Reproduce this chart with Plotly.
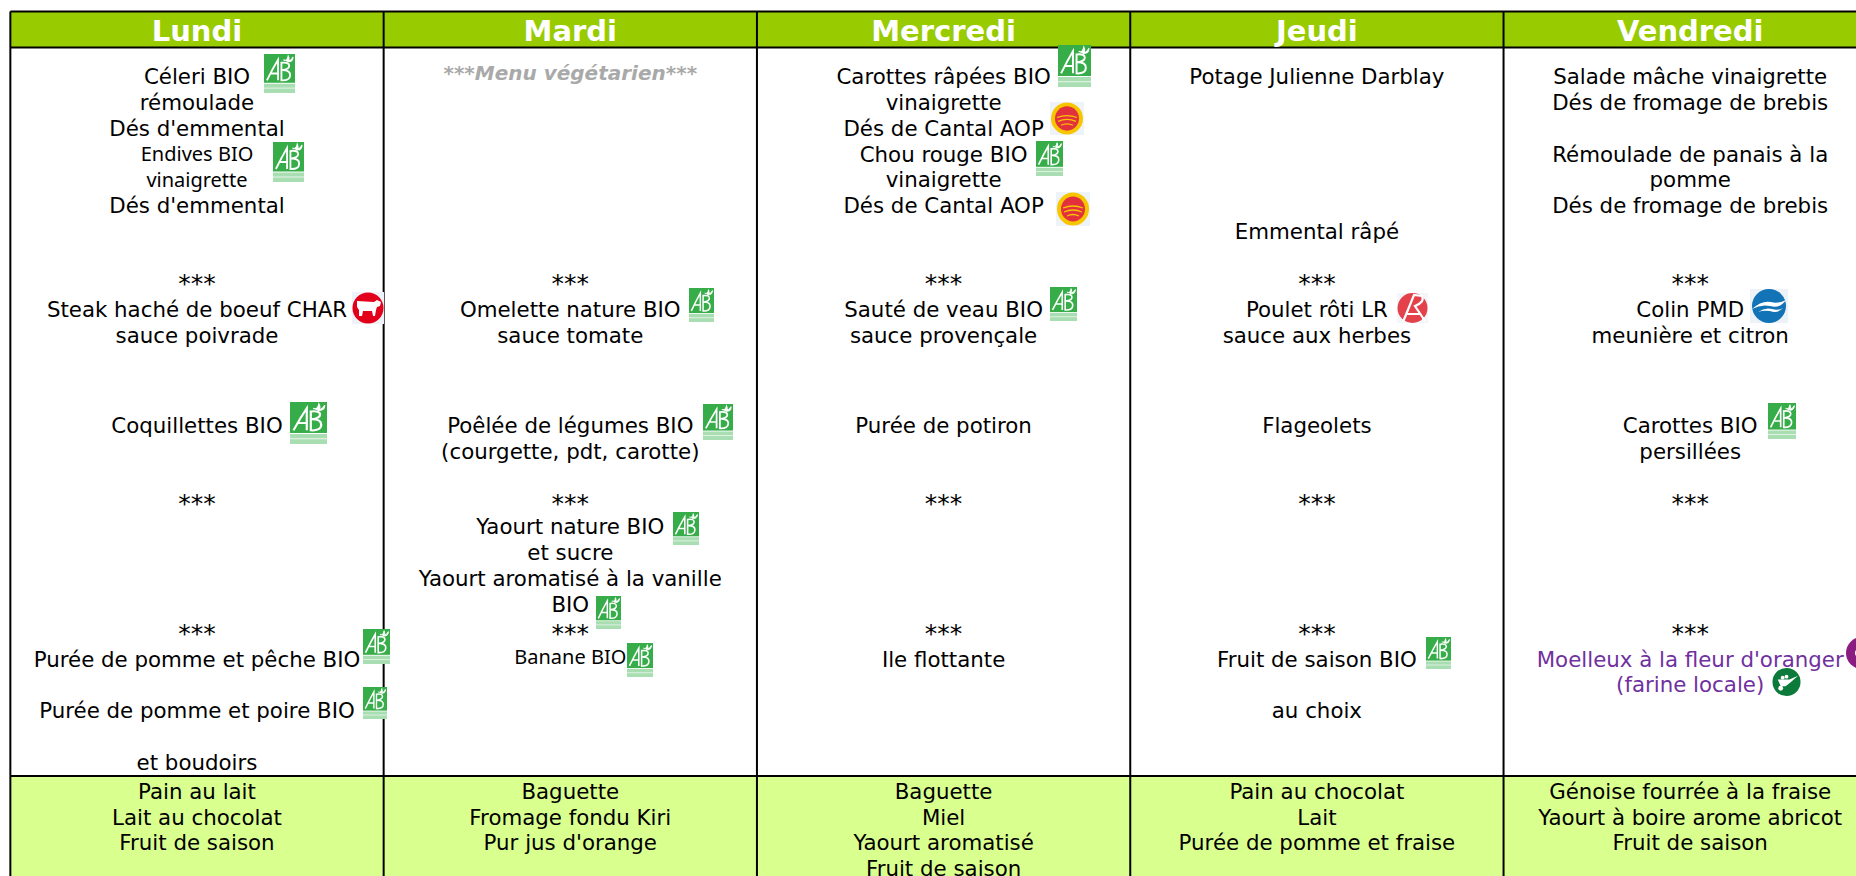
import base64
import plotly.graph_objects as go

W, H = 1856, 876
DAYS = ["Lundi", "Mardi", "Mercredi", "Jeudi", "Vendredi"]

LUNDI = [(0, "Céleri BIO"), (1, "rémoulade"), (2, "Dés d'emmental"), (8, "***"),
         (9, "Steak haché de boeuf CHAR"), (10, "sauce poivrade"), (13.5, "Coquillettes BIO"),
         (16.5, "***"), (21.5, "***"), (22.5, "Purée de pomme et pêche BIO"),
         (24.5, "Purée de pomme et poire BIO"), (26.5, "et boudoirs"), (5, "Dés d'emmental")]
MARDI = [(8, "***"), (9, "Omelette nature BIO"), (10, "sauce tomate"), (13.5, "Poêlée de légumes BIO"),
         (14.5, "(courgette, pdt, carotte)"), (16.5, "***"), (17.4, "Yaourt nature BIO"), (18.4, "et sucre"),
         (19.4, "Yaourt aromatisé à la vanille"), (20.4, "BIO"), (21.5, "***")]
MERCREDI = [(0, "Carottes râpées BIO"), (1, "vinaigrette"), (2, "Dés de Cantal AOP"), (3, "Chou rouge BIO"),
            (4, "vinaigrette"), (5, "Dés de Cantal AOP"), (8, "***"), (9, "Sauté de veau BIO"),
            (10, "sauce provençale"), (13.5, "Purée de potiron"), (16.5, "***"), (21.5, "***"), (22.5, "Ile flottante")]
JEUDI = [(0, "Potage Julienne Darblay"), (6, "Emmental râpé"), (8, "***"), (9, "Poulet rôti LR"),
         (10, "sauce aux herbes"), (13.5, "Flageolets"), (16.5, "***"), (21.5, "***"),
         (22.5, "Fruit de saison BIO"), (24.5, "au choix")]
VENDREDI = [(0, "Salade mâche vinaigrette"), (1, "Dés de fromage de brebis"), (3, "Rémoulade de panais à la"),
            (4, "pomme"), (5, "Dés de fromage de brebis"), (8, "***"), (9, "Colin PMD"),
            (10, "meunière et citron"), (13.5, "Carottes BIO"), (14.5, "persillées"), (16.5, "***"), (21.5, "***")]
TAHOMA_LINES = [(0, 3, "Endives BIO"), (0, 4, "vinaigrette"), (1, 22.4, "Banane BIO")]
VEGETARIEN = [(1, -0.15, "***Menu végétarien***")]
PURPLE_LINES = [(4, 22.5, "Moelleux à la fleur d'oranger"), (4, 23.5, "(farine locale)")]

GOUTER_ROWS = [27.6, 28.6, 29.6, 30.6]
GOUTER = [["Pain au lait", "Lait au chocolat", "Fruit de saison"],
          ["Baguette", "Fromage fondu Kiri", "Pur jus d'orange"],
          ["Baguette", "Miel", "Yaourt aromatisé", "Fruit de saison"],
          ["Pain au chocolat", "Lait", "Purée de pomme et fraise"],
          ["Génoise fourrée à la fraise", "Yaourt à boire arome abricot", "Fruit de saison"]]

# layout calibration (page pixels)
ROW0, ROWH = 78.5, 25.9
COL0, COLW = 197.0, 373.3
TOP, HEAD_B, SNACK = 11.5, 47.5, 776.0
BLACK = "#000000"


def ry(px):
    return (px - ROW0) / ROWH


def cx(px):
    return (px - COL0) / COLW


def svg_uri(body, w, h):
    s = f'<svg xmlns="http://www.w3.org/2000/svg" viewBox="0 0 {w} {h}" width="{w*4}" height="{h*4}" preserveAspectRatio="none">{body}</svg>'
    return "data:image/svg+xml;base64," + base64.b64encode(s.encode()).decode()


AB = svg_uri('<rect width="32" height="40" fill="#fff"/><rect width="32" height="29.5" fill="#37AD4A"/>'
             '<rect y="30.5" width="32" height="9.5" fill="#A9DDB2"/>'
             '<rect y="34.5" width="32" height="1" fill="#E6F5E8"/>'
             '<path d="M3 27 Q9 15 14.5 6 L14.5 27 M7 20 L14.5 20" stroke="#fff" stroke-width="1.9" fill="none"/>'
             '<path d="M18 9 L18 27 Q27 27.5 27 21.5 Q27 16.5 19 16.5 Q26 15.5 26 12 Q26 8 18 9Z" stroke="#fff" stroke-width="1.9" fill="none"/>'
             '<path d="M20 6 Q24 8 25 2 Q27 6 24 8 M25 7 Q28 7 30 3 Q30 8 25 8Z" stroke="#fff" stroke-width="1.1" fill="#fff"/>', 32, 40)
AOP = svg_uri('<rect width="34" height="34" fill="#EEF3FA"/><ellipse cx="17" cy="17" rx="16" ry="16.5" fill="#F7C600"/>'
              '<ellipse cx="17" cy="17" rx="12" ry="12.5" fill="#E2313C"/>'
              '<path d="M7 16 Q17 12 27 16 M8 20 Q17 16 26 20 M11 24 Q17 21 23 24" stroke="#F7C600" stroke-width="1.3" fill="none"/>', 34, 34)
LR = svg_uri('<rect width="31" height="30" fill="#F3F6FB"/><circle cx="15.5" cy="15" r="15" fill="#E4424A"/>'
             '<path d="M6 29 L17 2 L25 3 Q28 9 18 13 L28 28 M10 21 L24 21" stroke="#fff" stroke-width="2.2" fill="none"/>', 31, 30)
PMD = svg_uri('<rect width="38" height="34" fill="#EDF2F9"/><circle cx="19" cy="17" r="17" fill="#1273B7"/>'
              '<path d="M2 20 Q12 11 21 13 Q28 15 36 11 Q30 20 20 17 Q11 15 2 20Z M8 23 Q15 18 22 20 Q28 22 33 19 Q27 25 20 22 Q13 21 8 23Z" fill="#fff"/>', 38, 34)
CHAR = svg_uri('<rect width="32" height="32" fill="#EEF2F9"/><circle cx="16" cy="16" r="15.5" fill="#E2001A"/>'
               '<path d="M5 9 L22 10 L25 8 L29 10 L28 14 L25 15 L24 18 L23 24 L21 24 L20 19 L11 19 L10 24 L7 24 L7 18 L5 15 Z" fill="#fff"/>', 32, 32)
WHEEL = svg_uri('<circle cx="15" cy="14.5" r="14.5" fill="#0B7A3A"/>'
                '<path d="M6 12 L18 12 L27 8 L19 15 L14 19 L9 19 Z" fill="#fff"/><circle cx="9" cy="21" r="2.5" fill="#fff"/>'
                '<circle cx="11" cy="10" r="2" fill="#fff"/><circle cx="15" cy="9" r="2" fill="#fff"/>', 30, 29)
PURPLE = svg_uri('<circle cx="16" cy="16" r="16" fill="#8A1C82"/><circle cx="13" cy="16" r="4" fill="#fff"/>', 32, 32)

# kind, left, top, width, height in page pixels
ICONS = [(AB, 264, 54, 31, 39), (AB, 273, 142, 31, 40), (CHAR, 352, 292, 32, 32), (AB, 290, 402, 37, 42),
         (AB, 363, 629, 27, 35), (AB, 363, 687, 24, 32),
         (AB, 689, 288, 25, 34), (AB, 703, 404, 30, 36), (AB, 673, 512, 26, 33), (AB, 596, 596, 25, 33), (AB, 627, 643, 26, 34),
         (AB, 1058, 45, 33, 42), (AOP, 1050, 102, 34, 33), (AB, 1036, 141, 27, 35), (AOP, 1056, 192, 34, 34), (AB, 1050, 287, 27, 34),
         (LR, 1397, 293, 31, 30), (AB, 1426, 637, 25, 32),
         (PMD, 1750, 289, 38, 34), (AB, 1768, 403, 28, 36), (WHEEL, 1772, 668, 29, 28), (PURPLE, 1846, 637, 32, 32)]

FONT = "DejaVu Sans"
FS = 21.33
STARS = "***"


def text_trace(xs, ys, ts, color=BLACK, size=FS, family=FONT):
    return go.Scatter(x=xs, y=ys, text=ts, mode="text", textposition="middle center", hoverinfo="skip",
                      showlegend=False, textfont=dict(family=family, size=size, color=color))


fig = go.Figure()
xs, ys, ts = [], [], []
sx, sy, st = [], [], []
for d, lines in enumerate([LUNDI, MARDI, MERCREDI, JEUDI, VENDREDI]):
    for r, t in lines:
        if t == STARS:
            sx.append(d); sy.append(r); st.append(t)
        else:
            xs.append(d); ys.append(r); ts.append(t)
for d, lines in enumerate(GOUTER):
    for r, t in zip(GOUTER_ROWS, lines):
        xs.append(d); ys.append(r); ts.append(t)
fig.add_trace(text_trace(xs, ys, ts))
fig.add_trace(text_trace(sx, sy, st, size=25))
fig.add_trace(text_trace([a for a, _, _ in TAHOMA_LINES], [b for _, b, _ in TAHOMA_LINES], [c for _, _, c in TAHOMA_LINES], family="Noto Sans", size=20))
fig.add_trace(text_trace([a for a, _, _ in PURPLE_LINES], [b for _, b, _ in PURPLE_LINES], [c for _, _, c in PURPLE_LINES], color="#7030A0"))
fig.add_trace(text_trace([a for a, _, _ in VEGETARIEN], [b for _, b, _ in VEGETARIEN],
                         ["<b><i>" + c + "</i></b>" for _, _, c in VEGETARIEN], color="#A9A9A9", size=20))
fig.add_trace(text_trace(list(range(5)), [ry(34)] * 5, ["<b>" + d + "</b>" for d in DAYS], color="#FFFFFF", size=29))

shapes = [
    dict(type="rect", xref="x", yref="y", x0=-0.5, x1=4.5, y0=ry(TOP), y1=ry(HEAD_B), fillcolor="#99CC00", line_width=0, layer="below"),
    dict(type="rect", xref="x", yref="y", x0=-0.5, x1=4.5, y0=ry(SNACK), y1=ry(H + 5), fillcolor="#D9FF8F", line_width=0, layer="below"),
]
for yy in (TOP, HEAD_B, SNACK):
    shapes.append(dict(type="line", xref="x", yref="y", x0=-0.5, x1=4.5, y0=ry(yy), y1=ry(yy), line=dict(color=BLACK, width=2), layer="below"))
for k in range(6):
    shapes.append(dict(type="line", xref="x", yref="y", x0=k - 0.5, x1=k - 0.5, y0=ry(TOP), y1=ry(H + 5), line=dict(color=BLACK, width=2), layer="below"))

images = [dict(source=s, xref="paper", yref="paper", x=l / W, y=1 - t / H, sizex=w / W, sizey=h / H,
               xanchor="left", yanchor="top", sizing="stretch", layer="above") for s, l, t, w, h in ICONS]

fig.update_layout(width=W, height=H, margin=dict(l=0, r=0, t=0, b=0), paper_bgcolor="#FFFFFF", plot_bgcolor="#FFFFFF",
                  shapes=shapes, images=images, showlegend=False,
                  xaxis=dict(range=[cx(0), cx(W)], visible=False, fixedrange=True),
                  yaxis=dict(range=[ry(H), ry(0)], visible=False, fixedrange=True))
fig.write_html("out.html", config={"displayModeBar": False},
               post_script="document.body.style.margin='0';document.documentElement.style.overflow='hidden';")
